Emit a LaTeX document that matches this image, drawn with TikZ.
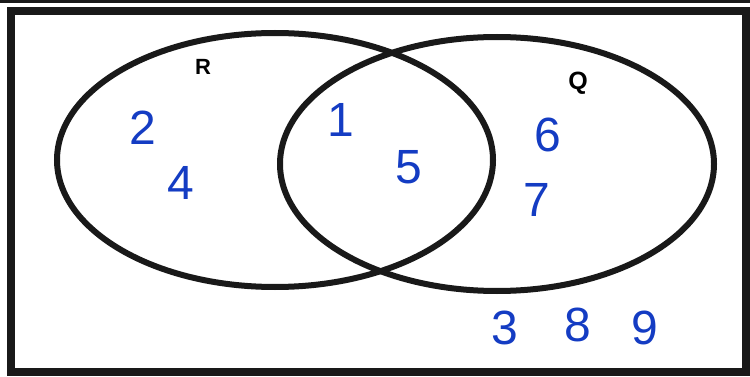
\documentclass[tikz,border=0pt]{standalone}
\usepackage{fontspec}
\setmainfont{Liberation Sans}
\usetikzlibrary{shapes.geometric}
\definecolor{ink}{RGB}{25,25,25}
\definecolor{pen}{RGB}{20,60,195}
\begin{document}
\begin{tikzpicture}[x=1pt,y=-1pt,
  setline/.style={draw=ink,line width=6pt,ellipse,inner sep=0pt},
  setlabel/.style={text=black,font=\bfseries\fontsize{22}{22}\selectfont,inner sep=0pt},
  elem/.style={text=pen,font=\fontsize{48}{48}\selectfont,inner sep=0pt}]
\useasboundingbox (0,0) rectangle (750,377);
\fill[white] (0,0) rectangle (750,377);
\fill[ink] (0,0) rectangle (750,3);
\draw[draw=ink,line width=8pt] (11,11) rectangle (746,372);
\node[setline,minimum width=436pt,minimum height=254pt] (setR) at (275,160) {};
\node[setline,minimum width=434pt,minimum height=254pt] (setQ) at (497,164) {};
\node[setlabel] (R) at (203,67) {R};
\node[setlabel,font=\bfseries\fontsize{25}{25}\selectfont] (Q) at (578,83) {Q};
\node[elem] (e2) at (143,128) {2};
\node[elem] (e4) at (181,183) {4};
\node[elem] (e1) at (341,120) {1};
\node[elem] (e5) at (409,167) {5};
\node[elem] (e6) at (548,135) {6};
\node[elem] (e7) at (537,200) {7};
\node[elem] (e3) at (505,328) {3};
\node[elem] (e8) at (578,325) {8};
\node[elem] (e9) at (645,328) {9};
\end{tikzpicture}
\end{document}
